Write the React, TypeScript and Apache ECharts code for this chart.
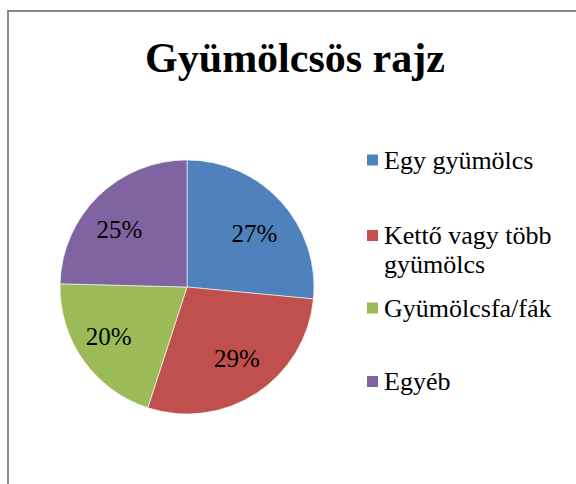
import React, { useEffect, useRef } from "react";
import * as echarts from "echarts";

const titleText = "Gyümölcsös rajz";
const categories = ["Egy gyümölcs", "Kettő vagy több gyümölcs", "Gyümölcsfa/fák", "Egyéb"];
const values = [26.5, 28.5, 20.4, 24.6];
const colors = ["#4F81BD", "#C0504D", "#9BBB59", "#8064A2"];

const legendTops = [145.5, 192, 293.5, 367];
const FONT = "Liberation Serif";
const LH = 29;

export default function App() {
  const ref = useRef<HTMLDivElement>(null);
  useEffect(() => {
    if (!ref.current) return;
    const chart = echarts.init(ref.current, null, { renderer: "svg" });
    const data = categories.map((name, i) => ({
      name,
      value: values[i],
      itemStyle: { color: colors[i] },
    }));
    const legends = categories.map((name, i) => ({
      show: true,
      orient: "vertical",
      left: 365,
      top: legendTops[i],
      padding: 0,
      icon: "rect",
      itemWidth: 13,
      itemHeight: 13,
      selectedMode: false,
      data: [{ name, itemStyle: { color: colors[i] } }],
      formatter: (n: string) =>
        n.indexOf("több ") >= 0 ? "\n" + n.replace("több ", "több\n") : n,
      textStyle: {
        fontFamily: FONT,
        fontSize: 26,
        lineHeight: LH,
        color: "#000",
      },
    }));
    chart.setOption({
      animation: false,
      backgroundColor: "#fff",
      textStyle: { fontFamily: FONT },
      title: {
        text: titleText,
        left: 295,
        top: 37,
        padding: 0,
        textAlign: "center",
        textStyle: { fontFamily: FONT, fontSize: 42, fontWeight: "bold", color: "#000" },
      },
      legend: legends,
      graphic: [
        {
          type: "rect",
          shape: { x: 8, y: 11, width: 1000, height: 1000 },
          style: { fill: "none", stroke: "#8a8a8a", lineWidth: 2 },
          silent: true,
          z: 100,
        },
      ],
      series: [
        {
          type: "pie",
          center: [187, 287],
          radius: [0, 127],
          startAngle: 90,
          clockwise: true,
          avoidLabelOverlap: false,
          label: { show: false },
          labelLine: { show: false },
          itemStyle: { borderColor: "#fff", borderWidth: 0.6 },
          emphasis: { disabled: true },
          data,
        },
        {
          type: "pie",
          center: [187, 287],
          radius: [49, 127],
          startAngle: 90,
          clockwise: true,
          silent: true,
          legendHoverLink: false,
          avoidLabelOverlap: false,
          itemStyle: { color: "rgba(0,0,0,0)" },
          label: {
            show: true,
            position: "inside",
            fontFamily: FONT,
            fontSize: 25,
            color: "#000",
            formatter: (p: any) => Math.round(p.value) + "%",
          },
          labelLayout: (p: any) => {
            const cx = p.labelRect.x + p.labelRect.width / 2;
            const cy = p.labelRect.y + p.labelRect.height / 2;
            return { dx: cx < 187 ? -4 : 0, dy: 2 - 0.09 * (cy - 287) };
          },
          labelLine: { show: false },
          emphasis: { disabled: true },
          data: categories.map((name, i) => ({ name, value: values[i] })),
        },
      ],
    });
    return () => chart.dispose();
  }, []);
  return (
    <div
      ref={ref}
      style={{ position: "fixed", left: 0, top: 0, width: 576, height: 484 }}
    />
  );
}
